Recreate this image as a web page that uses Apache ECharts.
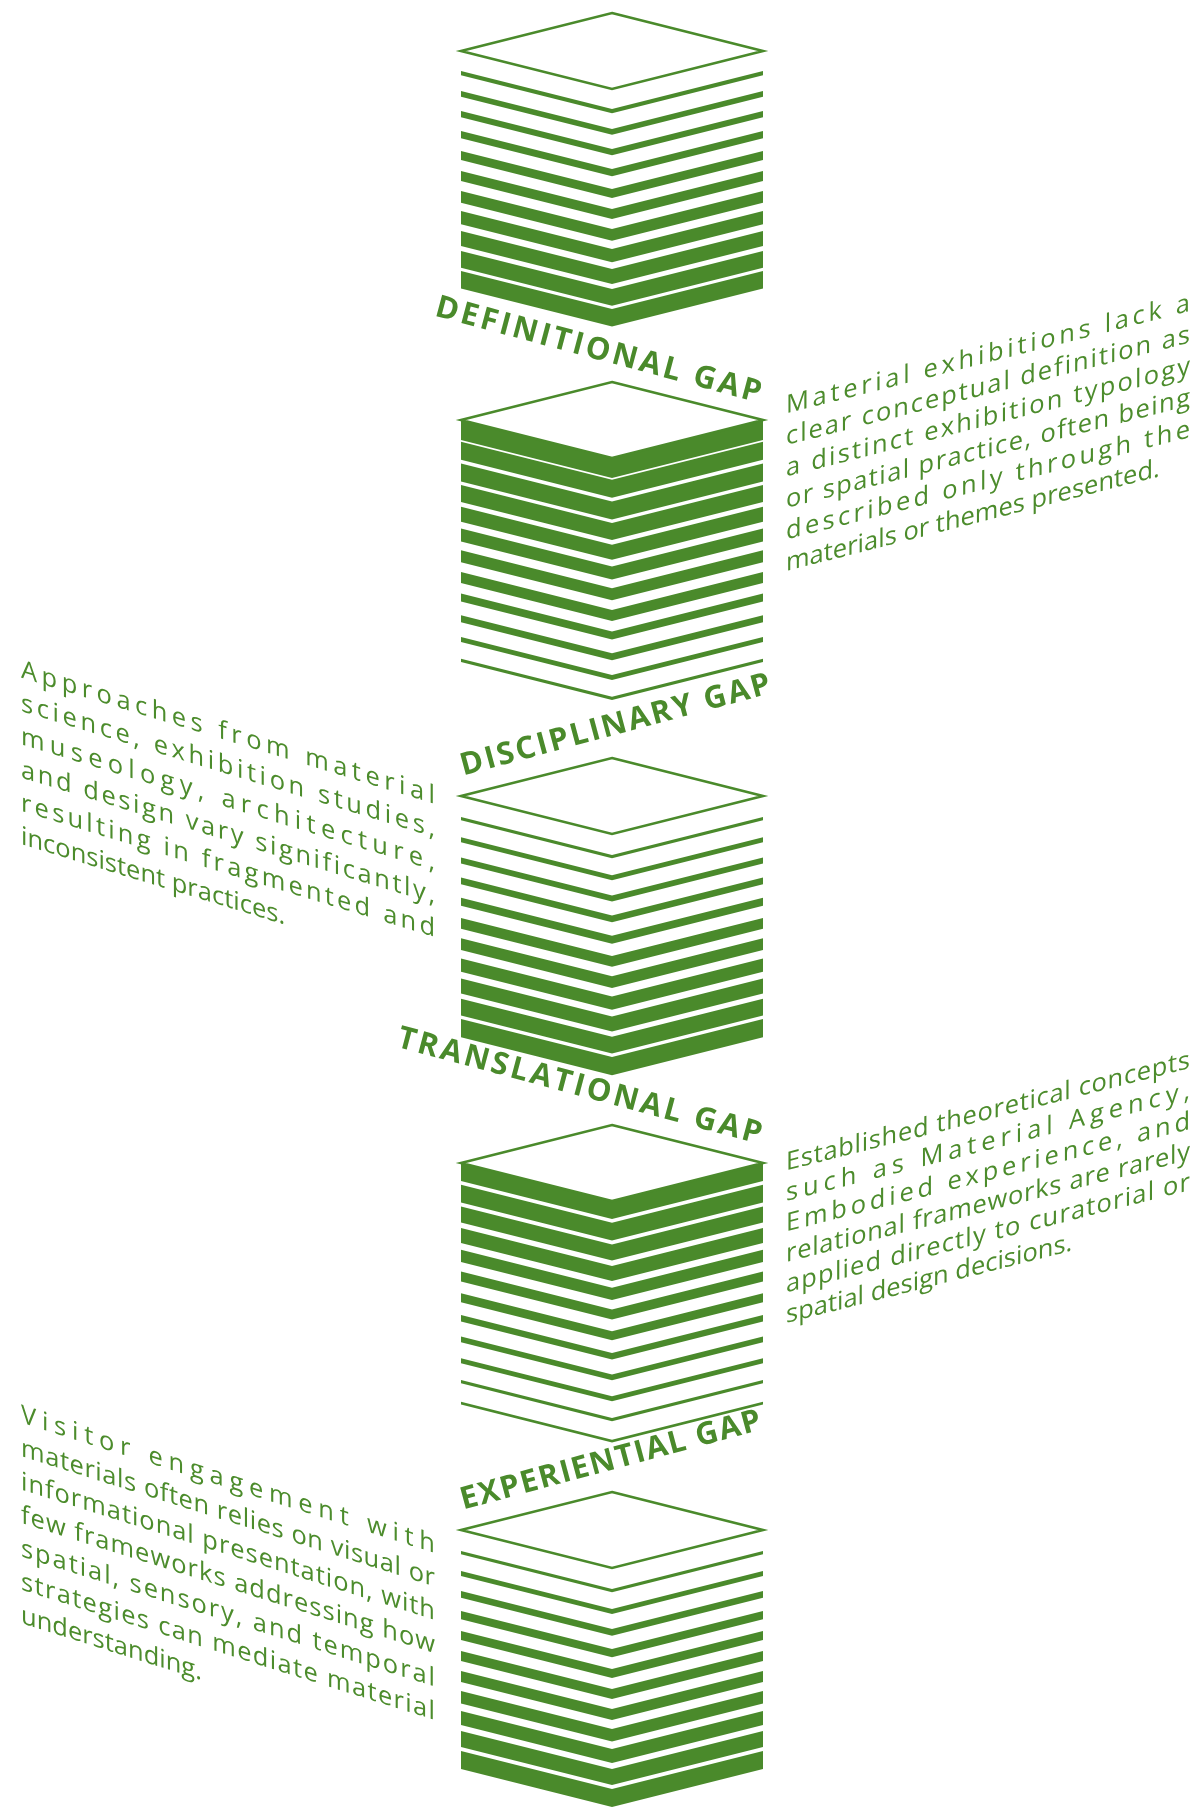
<!DOCTYPE html>
<html>
<head>
<meta charset="utf-8">
<script src="https://cdn.jsdelivr.net/npm/echarts@6/dist/echarts.min.js"></script>
<style>
html,body{margin:0;padding:0;background:#ffffff;}
#chart{width:1203px;height:1807px;}
</style>
</head>
<body>
<div id="chart"></div>
<script>
// ---------------- DATA ----------------
// Layer (band) thicknesses of each stack, top to bottom
const bandsStack1 = [4.3, 5.7, 6.2, 7.3, 9, 10, 11.7, 13.3, 15, 16.7, 17.5];
const bandsStack2 = [20, 18, 18, 17, 15, 13, 12, 11, 8, 7, 5, 3.3];
const bandsStack3 = [3.3, 5, 6, 6.7, 8, 10.7, 11.7, 13.3, 15, 16.7, 18.3];
const bandsStack4 = [18, 17.7, 16, 15, 12.3, 10, 9, 6.7, 5.7, 5, 3.3, 2.7];
const bandsStack5 = [3.3, 5, 6.7, 8.3, 9, 10, 11, 12.5, 14, 16, 18];

const gapLabels = ['DEFINITIONAL GAP', 'DISCIPLINARY GAP', 'TRANSLATIONAL GAP', 'EXPERIENTIAL GAP'];

const textDefinitional = [
  'Material exhibitions lack a',
  'clear conceptual definition as',
  'a distinct exhibition typology',
  'or spatial practice, often being',
  'described only through the',
  'materials or themes presented.'
];
const textDisciplinary = [
  'Approaches from material',
  'science, exhibition studies,',
  'museology, architecture,',
  'and design vary significantly,',
  'resulting in fragmented and',
  'inconsistent practices.'
];
const textTranslational = [
  'Established theoretical concepts',
  'such as Material Agency,',
  'Embodied experience, and',
  'relational frameworks are rarely',
  'applied directly to curatorial or',
  'spatial design decisions.'
];
const textExperiential = [
  'Visitor engagement with',
  'materials often relies on visual or',
  'informational presentation, with',
  'few frameworks addressing how',
  'spatial, sensory, and temporal',
  'strategies can mediate material',
  'understanding.'
];

// ---------------- LAYOUT / STYLE ----------------
const GREEN = '#4a8a2b';
const TEXT_GREEN = '#4c8c2c';
const CX = 612, HALF_W = 151, HALF_H = 38;
const stackLayout = [
  { top: 13,   start: 20, pitch: 20 },
  { top: 382,  start: 0,  pitch: 21.7 },
  { top: 758,  start: 21, pitch: 20.2 },
  { top: 1125, start: 0,  pitch: 21.7 },
  { top: 1492, start: 21, pitch: 20 }
];
const stackBands = [bandsStack1, bandsStack2, bandsStack3, bandsStack4, bandsStack5];

const seriesData = [];
stackBands.forEach(function (arr, s) {
  arr.forEach(function (t, b) { seriesData.push([s, b, t]); });
  seriesData.push([s, -1, 0]); // top face
});

function renderItem(params, api) {
  const s = api.value(0), b = api.value(1), t = api.value(2);
  const L = stackLayout[s];
  const xl = CX - HALF_W, xr = CX + HALF_W;
  if (b < 0) {
    const T = L.top;
    const pts = [[CX, T], [xr, T + HALF_H], [CX, T + 2 * HALF_H], [xl, T + HALF_H]].map(function (p) { return api.coord(p); });
    return { type: 'polygon', shape: { points: pts }, style: { fill: '#ffffff', stroke: GREEN, lineWidth: 2.6, lineJoin: 'miter' } };
  }
  const y = L.top + HALF_H + L.start + b * L.pitch;
  const pts = [[xl, y], [CX, y + HALF_H], [xr, y], [xr, y + t], [CX, y + HALF_H + t], [xl, y + t]].map(function (p) { return api.coord(p); });
  return { type: 'polygon', shape: { points: pts }, style: { fill: GREEN } };
}

// ---------------- TEXT HELPERS ----------------
const mctx = document.createElement('canvas').getContext('2d');
function widths(str, font) {
  mctx.font = font;
  return Array.from(str).map(function (c) { return mctx.measureText(c).width; });
}
// mode 'shear': slope dy/dx, glyphs sheared; mode 'rotate': angle (rad, clockwise positive)
function lineElements(str, font, color, x0, y0, target, justify, mode, k) {
  const chars = Array.from(str);
  const w = widths(str, font);
  const total = w.reduce(function (a, b) { return a + b; }, 0);
  const extra = (justify && chars.length > 1) ? (target - total) / (chars.length - 1) : 0;
  const els = [];
  let pos = 0;
  chars.forEach(function (c, i) {
    if (c !== ' ') {
      const el = {
        type: 'text', silent: true,
        style: { text: c, font: font, fill: color, textAlign: 'left', textVerticalAlign: 'middle', align: 'left', verticalAlign: 'middle' }
      };
      if (mode === 'shear') {
        el.x = x0 + pos;
        el.y = y0 + pos * k;
        el.skewY = -Math.atan(k);
      } else {
        el.x = x0 + pos * Math.cos(k);
        el.y = y0 + pos * Math.sin(k);
        el.rotation = -k;
      }
      els.push(el);
    }
    pos += w[i] + extra;
  });
  return els;
}
function paragraph(lines, font, fs, x0, baseline0, lh, width, slope) {
  let els = [];
  lines.forEach(function (ln, i) {
    const last = i === lines.length - 1;
    els = els.concat(lineElements(ln, font, TEXT_GREEN, x0, baseline0 - 0.3 * fs + i * lh, width, !last, 'shear', slope));
  });
  return els;
}

const LABEL_FONT = 'bold 31px "Open Sans"';
const A = 15 * Math.PI / 180;
let graphics = [];
// gap labels
graphics = graphics.concat(lineElements(gapLabels[0], LABEL_FONT, GREEN, 436, 307, 336, true, 'rotate', A));
graphics = graphics.concat(lineElements(gapLabels[1], LABEL_FONT, GREEN, 461, 767, 320, true, 'rotate', -A));
graphics = graphics.concat(lineElements(gapLabels[2], LABEL_FONT, GREEN, 398, 1038, 376, true, 'rotate', A));
graphics = graphics.concat(lineElements(gapLabels[3], LABEL_FONT, GREEN, 461, 1501, 310, true, 'rotate', -A));

// paragraphs
const PF = 25.5;
const PFONT = PF + 'px "Open Sans"';
graphics = graphics.concat(paragraph(textDefinitional, PFONT, PF, 786, 414, 31.5, 404, -0.254));
graphics = graphics.concat(paragraph(textDisciplinary, PFONT, PF, 21, 678, 33.3, 414, 0.305));
graphics = graphics.concat(paragraph(textTranslational, PFONT, PF, 786, 1171, 30.5, 404, -0.254));
graphics = graphics.concat(paragraph(textExperiential, PFONT, PF, 21, 1423, 33.4, 414, 0.315));

const chart = echarts.init(document.getElementById('chart'), null, { renderer: 'canvas' });
chart.setOption({
  animation: false,
  backgroundColor: '#ffffff',
  grid: { left: 0, right: 0, top: 0, bottom: 0 },
  xAxis: { type: 'value', min: 0, max: 1203, show: false },
  yAxis: { type: 'value', min: 0, max: 1807, inverse: true, show: false },
  series: [{
    type: 'custom',
    renderItem: renderItem,
    data: seriesData,
    encode: { x: 0, y: 2 },
    clip: false,
    silent: true
  }],
  graphic: { elements: graphics }
});
</script>
</body>
</html>
